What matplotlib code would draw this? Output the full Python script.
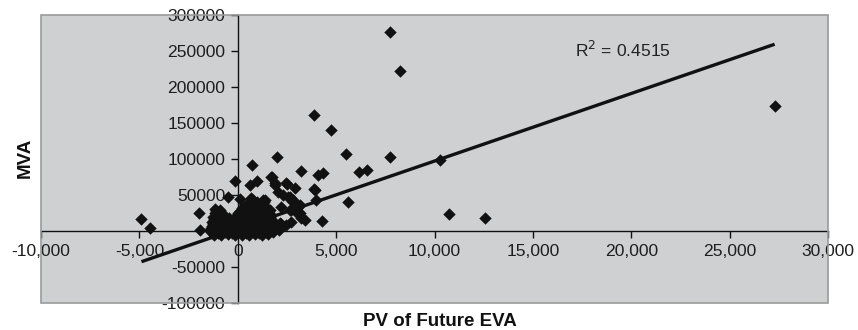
import matplotlib
matplotlib.use("Agg")
import matplotlib.pyplot as plt
from matplotlib.ticker import FuncFormatter
from matplotlib.patches import Rectangle

plt.rcParams['font.family'] = ['Liberation Sans', 'DejaVu Sans']

# ---- data: PV of Future EVA (x) vs MVA (y) ----
# scattered outer points
outer_x = [7759, 8232, 3878, 4743, 5522, 7759, 1982, 745, 3201, 4319, 6164, 6570,
           -152, 965, 610, 1762, 1897, 2506, 2913, 3878, -478, 102, 3998, 5624,
           -1966, -1931, -4893, -4472, 4284, 3185, 3405, 2220, 10264, 10738, 12551,
           27287, 1710, 2050, 2300, 2640, 2810, 3065, 2134, 1626, 1372, 694, 3913,
           4080, 2474, 2556, 3150, 3236, 2728, 2982, 2220, 2810, 2640, -915, -1255,
           -1170, 1880, 2450, 2700]
outer_y = [276800, 222600, 160700, 140700, 107400, 102800, 102800, 91200, 83800, 80100,
           81900, 84700, 69900, 69900, 63500, 75400, 63900, 64900, 59300, 58800, 46800,
           44000, 43000, 40700, 24600, 1400, 16200, 3700, 13500, 24600, 15300, 9700,
           98600, 23200, 18500, 173200, 75400, 54600, 50000, 47600, 40700, 33700, 10700,
           29200, 43000, 45400, 56900, 77800, 66200, 47600, 36100, 17600, 29200, 26800,
           33700, 43000, 29200, 29200, 19900, 17600, 66200, 8000, 12000]

# dense cluster near the origin
core_x = [-1200, -850, -500, -150, 200, 550, 900, 1250, 1550,
          -1350, -1000, -650, -300, 50, 400, 750, 1100, 1450, 1800,
          -1400, -1050, -700, -350, 0, 350, 700, 1050, 1400, 1750, 2100,
          -1350, -1000, -650, -300, 50, 400, 750, 1100, 1450, 1800, 2150,
          -1300, -950, -600, -250, 100, 450, 800, 1150, 1500, 1850, 2250,
          -1250, -900, -550, -200, 150, 500, 850, 1200, 1550, 1900,
          -1300, -950, -600, -250, 100, 450, 800, 1150, 1500, 1800,
          -1200, -850, -500, -150, 200, 550, 900, 1250, 1600,
          -1150, -800, -450, -100, 250, 600, 950, 1300, 1650,
          -1100, -750, -50, 300, 650, 1000, 1350, 1700,
          -1150, -800, 0, 350, 700, 1050, 1400,
          -1100, 100, 450, 800, 1150, 1450,
          -1150, 200, 550, 900, 1250,
          350, 700, 1050, 1400,
          450, 800, 1200,
          650, 1000, 1350,
          800, 1300]
core_y = [-5000, -5400, -4700, -5200, -4900, -5500, -4800, -5100, -4600,
          -2000, -2300, -1800, -2200, -1900, -2400, -1700, -2100, -1600, -2000,
          1000, 1300, 800, 1200, 900, 1400, 700, 1100, 1500, 800, 1000,
          4000, 4300, 3700, 4100, 3900, 4400, 3600, 4200, 3800, 4500, 3500,
          7000, 7300, 6700, 7200, 6900, 7400, 6600, 7100, 7500, 6800, 7000,
          10000, 10300, 9700, 10200, 9800, 10400, 9600, 10100, 9900, 10500,
          13000, 13300, 12700, 13200, 12900, 13400, 12600, 13100, 13500, 12800,
          16000, 16300, 15700, 16200, 15800, 16400, 15600, 16100, 15900,
          19000, 19300, 18700, 19200, 18900, 19400, 18600, 19100, 19500,
          22000, 22300, 21700, 22200, 21800, 22400, 21600, 22100,
          25000, 25300, 24700, 25200, 24900, 25400, 24600,
          28000, 28300, 27700, 28200, 27800, 28400,
          31000, 31300, 30700, 31200, 30900,
          34000, 34300, 33700, 34200,
          37000, 36700, 37300,
          40000, 39700, 40300,
          43000, 42700]

# linear trendline (y = slope * x + intercept)
trend_slope = 9.385
trend_intercept = 3300
r_squared = 0.4515

x_ticks = [-10000, -5000, 0, 5000, 10000, 15000, 20000, 25000, 30000]
y_ticks = [-100000, -50000, 0, 50000, 100000, 150000, 200000, 250000, 300000]

# ---- figure ----
W, H = 858, 330
fig = plt.figure(figsize=(W / 100, H / 100), dpi=100)
left, right, top, bottom = 41, 828, 15, 303
ax = fig.add_axes([left / W, (H - bottom) / H, (right - left) / W, (bottom - top) / H])
ax.set_facecolor('#cfd0d2')

ax.set_xlim(x_ticks[0], x_ticks[-1])
ax.set_ylim(y_ticks[0], y_ticks[-1])

mk = dict(marker='D', s=40, color='#111111', linewidths=0, zorder=3)
ax.scatter(core_x, core_y, **mk)
ax.scatter(outer_x, outer_y, **mk)

all_x = outer_x + core_x
x0, x1 = min(all_x), max(all_x)
ax.plot([x0, x1], [trend_slope * x0 + trend_intercept, trend_slope * x1 + trend_intercept],
        color='#111111', lw=2.4, zorder=4, solid_capstyle='butt')

ax.text(17150, 251500, f'R$^2$ = {r_squared}', fontsize=12.6, color='#222222',
        va='center', ha='left')

# axes crossing at origin
for s in ['top', 'right']:
    ax.spines[s].set_visible(False)
ax.spines['left'].set_position(('data', 0))
ax.spines['bottom'].set_position(('data', 0))
for s in ['left', 'bottom']:
    ax.spines[s].set_color('#111111')
    ax.spines[s].set_linewidth(1.0)
    ax.spines[s].set_zorder(2.6)

ax.set_xticks(x_ticks)
ax.set_yticks(y_ticks)
ax.xaxis.set_major_formatter(FuncFormatter(lambda v, p: f'{int(v):,}'))
ax.yaxis.set_major_formatter(FuncFormatter(lambda v, p: '' if v == 0 else f'{int(v)}'))
ax.tick_params(direction='out', length=5, width=1, color='#111111',
               labelsize=12.6, labelcolor='#1e1e1e', pad=4)

# plot-area border
ax.add_patch(Rectangle((0, 0), 1, 1, transform=ax.transAxes, fill=False,
                       edgecolor='#9a9a9a', lw=1.2, clip_on=False, zorder=5))

ax.set_xlabel('PV of Future EVA', fontsize=13.5, fontweight='bold', color='#111111')
ax.set_ylabel('MVA', fontsize=13.5, fontweight='bold', color='#111111')
ax.xaxis.set_label_coords((440 - left) / (right - left), (bottom - 321) / (bottom - top))
ax.xaxis.label.set_verticalalignment('center')
ax.yaxis.set_label_coords((25 - left) / (right - left), (bottom - 158) / (bottom - top))
ax.yaxis.label.set_verticalalignment('center')

fig.savefig('out.png', dpi=100)
